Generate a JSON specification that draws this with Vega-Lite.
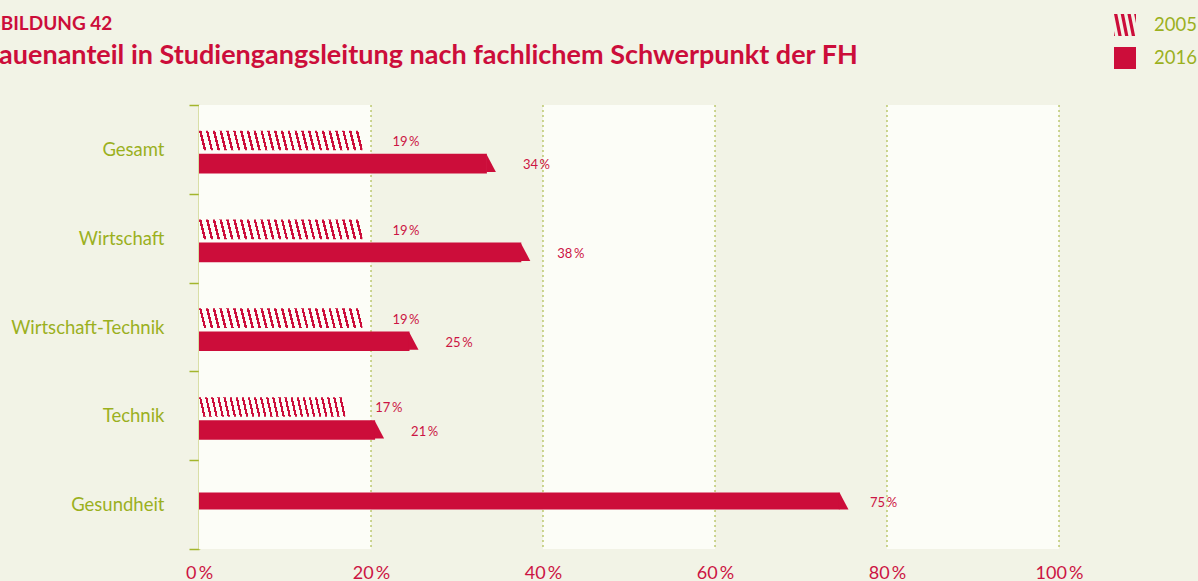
{
  "$schema": "https://vega.github.io/schema/vega-lite/v6.json",
  "autosize": {"type": "none"},
  "padding": {"left": 199, "top": 105, "right": 139, "bottom": 32},
  "width": 860,
  "height": 444,
  "background": "#f2f3e6",
  "title": {
    "text": "ABBILDUNG 42",
    "subtitle": "Frauenanteil in Studiengangsleitung nach fachlichem Schwerpunkt der FH",
    "anchor": "start",
    "frame": "group",
    "dx": -224,
    "offset": -55,
    "font": "Lato",
    "fontSize": 19,
    "fontWeight": "bold",
    "color": "#cc0d3a",
    "subtitleFont": "Lato",
    "subtitleFontSize": 27,
    "subtitleFontWeight": "bold",
    "subtitleColor": "#cc0d3a",
    "subtitlePadding": 9
  },
  "datasets": {
    "anteile": [
      {"bereich": "Gesamt", "jahr": "2005", "anteil": 19},
      {"bereich": "Gesamt", "jahr": "2016", "anteil": 34},
      {"bereich": "Wirtschaft", "jahr": "2005", "anteil": 19},
      {"bereich": "Wirtschaft", "jahr": "2016", "anteil": 38},
      {"bereich": "Wirtschaft-Technik", "jahr": "2005", "anteil": 19},
      {"bereich": "Wirtschaft-Technik", "jahr": "2016", "anteil": 25},
      {"bereich": "Technik", "jahr": "2005", "anteil": 17},
      {"bereich": "Technik", "jahr": "2016", "anteil": 21},
      {"bereich": "Gesundheit", "jahr": "2016", "anteil": 75}
    ],
    "streifen": [
      {"von": 0, "bis": 20},
      {"von": 40, "bis": 60},
      {"von": 80, "bis": 100}
    ],
    "raster": [{"wert": 20}, {"wert": 40}, {"wert": 60}, {"wert": 80}, {"wert": 100}]
  },
  "config": {
    "view": {"stroke": null},
    "axisX": {
      "domain": false,
      "ticks": false,
      "grid": false,
      "labelFlush": false,
      "labelFont": "Lato",
      "labelFontSize": 18,
      "labelColor": "#cc1443",
      "labelPadding": 15
    },
    "axisY": {
      "domainColor": "#bfca66",
      "domainWidth": 2,
      "tickColor": "#a3b52c",
      "tickSize": 10,
      "tickWidth": 1.5,
      "labelFont": "Lato",
      "labelFontSize": 18.5,
      "labelColor": "#9bb01e",
      "labelPadding": 25,
      "grid": false,
      "zindex": 1
    }
  },
  "layer": [
    {
      "data": {"name": "streifen"},
      "mark": {"type": "rect", "fill": "#fcfdf7"},
      "encoding": {
        "x": {"field": "von", "type": "quantitative", "title": null, "scale": {"domain": [0, 100], "nice": false}},
        "x2": {"field": "bis"}
      }
    },
    {
      "data": {"name": "raster"},
      "mark": {"type": "rule", "stroke": "#9fb030", "strokeWidth": 1, "strokeDash": [2, 3]},
      "encoding": {
        "x": {"field": "wert", "type": "quantitative", "title": null}
      }
    },
    {
      "data": {"name": "anteile"},
      "transform": [{"filter": "datum.jahr === '2005'"}],
      "mark": {
        "type": "bar",
        "fill": {
          "gradient": "linear", "x1": 0, "y1": 0, "x2": 1, "y2": -0.03,
          "stops": [
            {"offset": 0, "color": "rgba(252,253,247,0)"},
            {"offset": 0, "color": "#cc0d3a"}, {"offset": 0.015, "color": "#cc0d3a"}, {"offset": 0.015, "color": "rgba(252,253,247,0)"},
            {"offset": 0.04167, "color": "rgba(252,253,247,0)"}, {"offset": 0.04167, "color": "#cc0d3a"}, {"offset": 0.05667, "color": "#cc0d3a"}, {"offset": 0.05667, "color": "rgba(252,253,247,0)"},
            {"offset": 0.08333, "color": "rgba(252,253,247,0)"}, {"offset": 0.08333, "color": "#cc0d3a"}, {"offset": 0.09833, "color": "#cc0d3a"}, {"offset": 0.09833, "color": "rgba(252,253,247,0)"},
            {"offset": 0.125, "color": "rgba(252,253,247,0)"}, {"offset": 0.125, "color": "#cc0d3a"}, {"offset": 0.14, "color": "#cc0d3a"}, {"offset": 0.14, "color": "rgba(252,253,247,0)"},
            {"offset": 0.16667, "color": "rgba(252,253,247,0)"}, {"offset": 0.16667, "color": "#cc0d3a"}, {"offset": 0.18167, "color": "#cc0d3a"}, {"offset": 0.18167, "color": "rgba(252,253,247,0)"},
            {"offset": 0.20833, "color": "rgba(252,253,247,0)"}, {"offset": 0.20833, "color": "#cc0d3a"}, {"offset": 0.22333, "color": "#cc0d3a"}, {"offset": 0.22333, "color": "rgba(252,253,247,0)"},
            {"offset": 0.25, "color": "rgba(252,253,247,0)"}, {"offset": 0.25, "color": "#cc0d3a"}, {"offset": 0.265, "color": "#cc0d3a"}, {"offset": 0.265, "color": "rgba(252,253,247,0)"},
            {"offset": 0.29167, "color": "rgba(252,253,247,0)"}, {"offset": 0.29167, "color": "#cc0d3a"}, {"offset": 0.30667, "color": "#cc0d3a"}, {"offset": 0.30667, "color": "rgba(252,253,247,0)"},
            {"offset": 0.33333, "color": "rgba(252,253,247,0)"}, {"offset": 0.33333, "color": "#cc0d3a"}, {"offset": 0.34833, "color": "#cc0d3a"}, {"offset": 0.34833, "color": "rgba(252,253,247,0)"},
            {"offset": 0.375, "color": "rgba(252,253,247,0)"}, {"offset": 0.375, "color": "#cc0d3a"}, {"offset": 0.39, "color": "#cc0d3a"}, {"offset": 0.39, "color": "rgba(252,253,247,0)"},
            {"offset": 0.41667, "color": "rgba(252,253,247,0)"}, {"offset": 0.41667, "color": "#cc0d3a"}, {"offset": 0.43167, "color": "#cc0d3a"}, {"offset": 0.43167, "color": "rgba(252,253,247,0)"},
            {"offset": 0.45833, "color": "rgba(252,253,247,0)"}, {"offset": 0.45833, "color": "#cc0d3a"}, {"offset": 0.47333, "color": "#cc0d3a"}, {"offset": 0.47333, "color": "rgba(252,253,247,0)"},
            {"offset": 0.5, "color": "rgba(252,253,247,0)"}, {"offset": 0.5, "color": "#cc0d3a"}, {"offset": 0.515, "color": "#cc0d3a"}, {"offset": 0.515, "color": "rgba(252,253,247,0)"},
            {"offset": 0.54167, "color": "rgba(252,253,247,0)"}, {"offset": 0.54167, "color": "#cc0d3a"}, {"offset": 0.55667, "color": "#cc0d3a"}, {"offset": 0.55667, "color": "rgba(252,253,247,0)"},
            {"offset": 0.58333, "color": "rgba(252,253,247,0)"}, {"offset": 0.58333, "color": "#cc0d3a"}, {"offset": 0.59833, "color": "#cc0d3a"}, {"offset": 0.59833, "color": "rgba(252,253,247,0)"},
            {"offset": 0.625, "color": "rgba(252,253,247,0)"}, {"offset": 0.625, "color": "#cc0d3a"}, {"offset": 0.64, "color": "#cc0d3a"}, {"offset": 0.64, "color": "rgba(252,253,247,0)"},
            {"offset": 0.66667, "color": "rgba(252,253,247,0)"}, {"offset": 0.66667, "color": "#cc0d3a"}, {"offset": 0.68167, "color": "#cc0d3a"}, {"offset": 0.68167, "color": "rgba(252,253,247,0)"},
            {"offset": 0.70833, "color": "rgba(252,253,247,0)"}, {"offset": 0.70833, "color": "#cc0d3a"}, {"offset": 0.72333, "color": "#cc0d3a"}, {"offset": 0.72333, "color": "rgba(252,253,247,0)"},
            {"offset": 0.75, "color": "rgba(252,253,247,0)"}, {"offset": 0.75, "color": "#cc0d3a"}, {"offset": 0.765, "color": "#cc0d3a"}, {"offset": 0.765, "color": "rgba(252,253,247,0)"},
            {"offset": 0.79167, "color": "rgba(252,253,247,0)"}, {"offset": 0.79167, "color": "#cc0d3a"}, {"offset": 0.80667, "color": "#cc0d3a"}, {"offset": 0.80667, "color": "rgba(252,253,247,0)"},
            {"offset": 0.83333, "color": "rgba(252,253,247,0)"}, {"offset": 0.83333, "color": "#cc0d3a"}, {"offset": 0.84833, "color": "#cc0d3a"}, {"offset": 0.84833, "color": "rgba(252,253,247,0)"},
            {"offset": 0.875, "color": "rgba(252,253,247,0)"}, {"offset": 0.875, "color": "#cc0d3a"}, {"offset": 0.89, "color": "#cc0d3a"}, {"offset": 0.89, "color": "rgba(252,253,247,0)"},
            {"offset": 0.91667, "color": "rgba(252,253,247,0)"}, {"offset": 0.91667, "color": "#cc0d3a"}, {"offset": 0.93167, "color": "#cc0d3a"}, {"offset": 0.93167, "color": "rgba(252,253,247,0)"},
            {"offset": 0.95833, "color": "rgba(252,253,247,0)"}, {"offset": 0.95833, "color": "#cc0d3a"}, {"offset": 0.97333, "color": "#cc0d3a"}, {"offset": 0.97333, "color": "rgba(252,253,247,0)"},
            {"offset": 1, "color": "rgba(252,253,247,0)"}
          ]
        }
      },
      "encoding": {
        "x": {"field": "anteil", "type": "quantitative", "title": null},
        "x2": {"datum": 0},
        "y": {
          "field": "bereich", "type": "nominal", "title": null,
          "sort": ["Gesamt", "Wirtschaft", "Wirtschaft-Technik", "Technik", "Gesundheit"],
          "scale": {"paddingInner": 0, "paddingOuter": 0},
          "axis": {"tickBand": "extent"}
        },
        "yOffset": {
          "field": "jahr", "type": "nominal",
          "scale": {"domain": ["2005", "2016"], "paddingInner": 0.15, "paddingOuter": 1.295, "align": 0.558}
        }
      }
    },
    {
      "data": {"name": "anteile"},
      "transform": [{"filter": "datum.jahr === '2016' && datum.bereich !== 'Gesundheit'"}],
      "mark": {"type": "bar", "xOffset": -4.5},
      "encoding": {
        "x": {"field": "anteil", "type": "quantitative", "title": null},
        "x2": {"datum": 0},
        "y": {"field": "bereich", "type": "nominal", "title": null, "sort": ["Gesamt", "Wirtschaft", "Wirtschaft-Technik", "Technik", "Gesundheit"]},
        "yOffset": {"field": "jahr", "type": "nominal", "scale": {"domain": ["2005", "2016"]}},
        "color": {
          "field": "jahr", "type": "nominal",
          "scale": {"domain": ["2005", "2016"], "range": ["#cc0d3a", "#cc0d3a"]},
          "legend": {
            "orient": "none",
            "legendX": 915,
            "legendY": -91,
            "title": null,
            "padding": 0,
            "symbolType": "square",
            "symbolSize": 484,
            "symbolStrokeWidth": 0,
            "symbolOpacity": 1,
            "labelFont": "Lato",
            "labelFontSize": 18.5,
            "labelColor": "#9bb01e",
            "labelOffset": 18,
            "rowPadding": 11,
            "encode": {
              "symbols": {
                "update": {
                  "shape": {"signal": "datum.value === '2005' ? 'M-1,-1L-0.7,-1L-0.3,1L-0.6,1ZM-0.39,-1L-0.09,-1L0.31,1L0.01,1ZM0.22,-1L0.52,-1L0.92,1L0.62,1ZM0.83,-1L1,-1L1,-0.15ZM-1,0.55L-0.91,1L-1,1Z' : 'square'"},
                  "fill": {"value": "#cc0d3a"},
                  "strokeWidth": {"value": 0}
                }
              }
            }
          }
        }
      }
    },
    {
      "data": {"name": "anteile"},
      "transform": [{"filter": "datum.jahr === '2016' && datum.bereich !== 'Gesundheit'"}],
      "mark": {"type": "point", "shape": "M-0.6,-1L-0.53,-1L0.53,1L-0.6,1Z", "size": 289, "filled": true, "color": "#cc0d3a", "strokeWidth": 0, "opacity": 1},
      "encoding": {
        "x": {"field": "anteil", "type": "quantitative", "title": null},
        "y": {"field": "bereich", "type": "nominal", "title": null, "sort": ["Gesamt", "Wirtschaft", "Wirtschaft-Technik", "Technik", "Gesundheit"]},
        "yOffset": {"field": "jahr", "type": "nominal", "scale": {"domain": ["2005", "2016"]}}
      }
    },
    {
      "data": {"name": "anteile"},
      "transform": [{"filter": "datum.bereich === 'Gesundheit'"}],
      "mark": {"type": "bar", "xOffset": -4.5, "yOffset": -3.5, "height": 17},
      "encoding": {
        "x": {"field": "anteil", "type": "quantitative", "title": null},
        "x2": {"datum": 0},
        "y": {"field": "bereich", "type": "nominal", "title": null, "sort": ["Gesamt", "Wirtschaft", "Wirtschaft-Technik", "Technik", "Gesundheit"]},
        "color": {"field": "jahr", "type": "nominal", "scale": {"domain": ["2005", "2016"], "range": ["#cc0d3a", "#cc0d3a"]}}
      }
    },
    {
      "data": {"name": "anteile"},
      "transform": [{"filter": "datum.bereich === 'Gesundheit'"}],
      "mark": {"type": "point", "shape": "M-0.6,-1L-0.53,-1L0.53,1L-0.6,1Z", "size": 289, "filled": true, "color": "#cc0d3a", "strokeWidth": 0, "opacity": 1, "yOffset": -3.5},
      "encoding": {
        "x": {"field": "anteil", "type": "quantitative", "title": null},
        "y": {"field": "bereich", "type": "nominal", "title": null, "sort": ["Gesamt", "Wirtschaft", "Wirtschaft-Technik", "Technik", "Gesundheit"]}
      }
    },
    {
      "data": {"name": "anteile"},
      "transform": [
        {"filter": "datum.jahr === '2005'"},
        {"calculate": "datum.anteil + '\u2009%'", "as": "beschriftung"}
      ],
      "mark": {"type": "text", "align": "left", "baseline": "middle", "dx": 30, "dy": 1.5, "font": "Lato", "fontSize": 13, "color": "#cc1443"},
      "encoding": {
        "x": {"field": "anteil", "type": "quantitative", "title": null},
        "y": {"field": "bereich", "type": "nominal", "title": null, "sort": ["Gesamt", "Wirtschaft", "Wirtschaft-Technik", "Technik", "Gesundheit"]},
        "yOffset": {"field": "jahr", "type": "nominal", "scale": {"domain": ["2005", "2016"]}},
        "text": {"field": "beschriftung"}
      }
    },
    {
      "data": {"name": "anteile"},
      "transform": [
        {"filter": "datum.jahr === '2016' && datum.bereich !== 'Gesundheit'"},
        {"calculate": "datum.anteil + '\u2009%'", "as": "beschriftung"}
      ],
      "mark": {"type": "text", "align": "left", "baseline": "middle", "dx": 31.5, "dy": 1.5, "font": "Lato", "fontSize": 13, "color": "#cc1443"},
      "encoding": {
        "x": {"field": "anteil", "type": "quantitative", "title": null},
        "y": {"field": "bereich", "type": "nominal", "title": null, "sort": ["Gesamt", "Wirtschaft", "Wirtschaft-Technik", "Technik", "Gesundheit"]},
        "yOffset": {"field": "jahr", "type": "nominal", "scale": {"domain": ["2005", "2016"]}},
        "text": {"field": "beschriftung"}
      }
    },
    {
      "data": {"name": "anteile"},
      "transform": [
        {"filter": "datum.bereich === 'Gesundheit'"},
        {"calculate": "datum.anteil + '\u2009%'", "as": "beschriftung"}
      ],
      "mark": {"type": "text", "align": "left", "baseline": "middle", "dx": 26, "dy": -2, "font": "Lato", "fontSize": 13, "color": "#cc1443"},
      "encoding": {
        "x": {
          "field": "anteil", "type": "quantitative", "title": null,
          "axis": {"values": [0, 20, 40, 60, 80, 100], "labelExpr": "datum.value + '\u2009%'"}
        },
        "y": {"field": "bereich", "type": "nominal", "title": null, "sort": ["Gesamt", "Wirtschaft", "Wirtschaft-Technik", "Technik", "Gesundheit"]},
        "text": {"field": "beschriftung"}
      }
    }
  ]
}
